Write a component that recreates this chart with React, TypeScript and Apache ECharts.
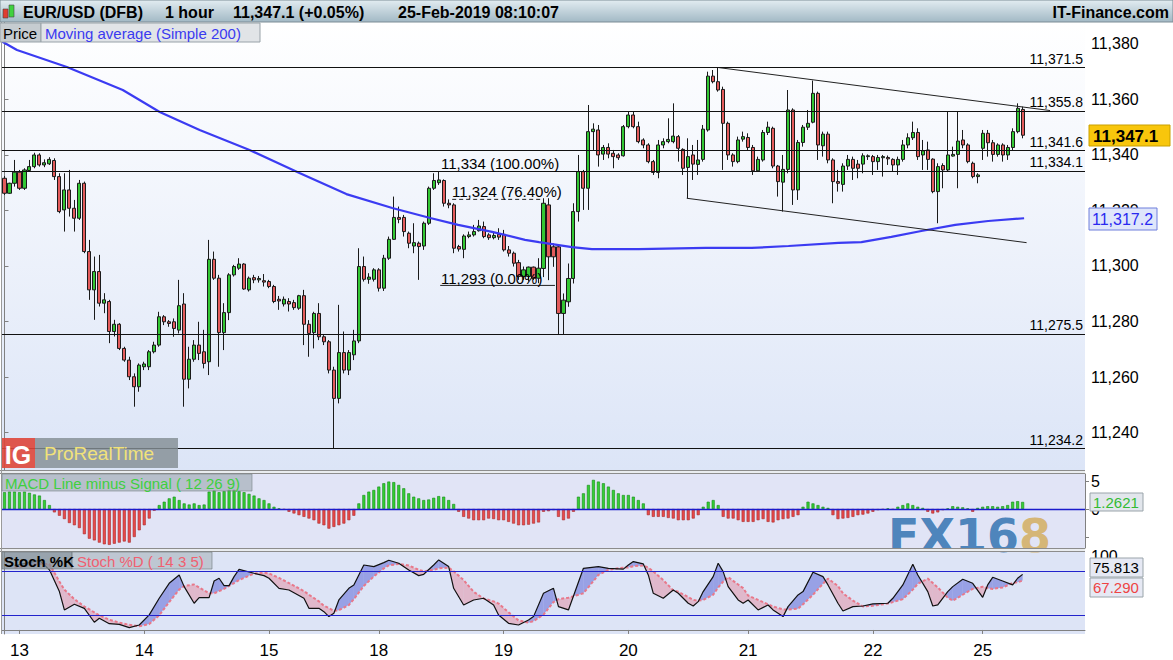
import React, { useEffect, useRef } from 'react';
import * as echarts from 'echarts';

const FONT = '"Liberation Sans", Arial, Helvetica, sans-serif';
const N_SLOTS = 217;

// header texts
const instrument = 'EUR/USD (DFB)';
const timeframe = '1 hour';
const lastQuote = '11,347.1 (+0.05%)';
const stamp = '25-Feb-2019 08:10:07';

// hourly candles: [open, close, low, high]
const ohlc: number[][] = [
  [11331.6, 11326.2, 11325.6, 11332.4], [11326.2, 11329.8, 11326.0, 11330.0], [11329.8, 11333.8, 11328.6, 11338.2],
  [11333.8, 11328.0, 11327.4, 11334.6], [11328.0, 11334.6, 11327.4, 11335.2], [11334.4, 11335.8, 11334.0, 11338.2],
  [11335.8, 11340.0, 11335.2, 11340.8], [11340.0, 11336.4, 11335.8, 11340.6], [11336.4, 11337.2, 11335.6, 11338.4],
  [11336.8, 11338.4, 11336.4, 11339.2], [11338.0, 11332.2, 11331.0, 11338.8], [11332.2, 11319.6, 11319.0, 11333.4],
  [11320.2, 11327.4, 11312.4, 11333.4], [11327.4, 11320.8, 11317.8, 11334.6], [11320.8, 11317.2, 11312.4, 11323.8],
  [11317.2, 11329.8, 11316.6, 11331.0], [11329.8, 11305.2, 11304.6, 11330.4], [11305.2, 11291.4, 11287.8, 11309.4],
  [11291.4, 11298.0, 11280.6, 11303.4], [11298.0, 11286.6, 11285.4, 11304.0], [11286.6, 11287.8, 11283.0, 11290.2],
  [11287.2, 11276.4, 11272.2, 11287.8], [11276.4, 11279.0, 11274.6, 11280.6], [11279.0, 11270.3, 11269.7, 11279.4],
  [11270.3, 11266.1, 11265.5, 11270.9], [11266.1, 11260.1, 11258.9, 11267.3], [11260.1, 11256.5, 11249.3, 11261.3],
  [11256.5, 11264.3, 11254.7, 11264.9], [11263.7, 11264.7, 11262.5, 11265.5], [11263.7, 11269.1, 11262.5, 11269.7],
  [11269.1, 11271.5, 11268.5, 11272.7], [11271.5, 11281.7, 11270.9, 11283.5], [11281.7, 11279.9, 11278.7, 11282.3],
  [11279.9, 11279.3, 11278.1, 11280.5], [11279.9, 11277.5, 11274.5, 11281.1], [11276.9, 11285.7, 11275.7, 11295.0],
  [11286.3, 11259.2, 11249.3, 11290.2], [11259.2, 11266.4, 11255.9, 11270.9], [11266.4, 11271.5, 11265.5, 11273.3],
  [11271.5, 11268.5, 11266.1, 11279.9], [11269.1, 11264.9, 11263.1, 11277.0], [11265.5, 11302.4, 11260.7, 11309.4],
  [11302.4, 11295.6, 11295.0, 11305.2], [11295.6, 11276.0, 11263.7, 11296.8], [11276.0, 11283.2, 11269.7, 11286.6],
  [11283.2, 11296.8, 11280.5, 11297.4], [11296.8, 11299.8, 11296.2, 11300.4], [11299.2, 11300.7, 11298.6, 11302.8],
  [11300.7, 11291.7, 11291.4, 11301.0], [11291.4, 11295.6, 11290.8, 11296.2], [11295.8, 11295.0, 11293.8, 11296.8],
  [11295.0, 11295.5, 11294.0, 11296.4], [11294.7, 11294.2, 11292.6, 11297.1], [11294.4, 11292.6, 11292.0, 11295.0],
  [11292.6, 11287.2, 11286.6, 11293.2], [11288.0, 11287.4, 11284.2, 11289.2], [11286.3, 11288.0, 11285.4, 11289.0],
  [11287.2, 11286.3, 11283.6, 11288.4], [11286.8, 11285.0, 11284.2, 11287.8], [11284.8, 11289.3, 11284.2, 11289.6],
  [11289.3, 11279.0, 11271.5, 11291.4], [11279.0, 11275.7, 11267.3, 11280.5], [11276.0, 11282.9, 11270.3, 11283.5],
  [11282.9, 11274.5, 11273.3, 11286.6], [11274.5, 11272.7, 11271.5, 11275.1], [11272.7, 11262.5, 11261.3, 11273.3],
  [11262.5, 11252.3, 11234.2, 11263.7], [11252.3, 11268.8, 11250.5, 11286.0], [11268.8, 11262.5, 11261.3, 11276.4],
  [11262.5, 11268.8, 11260.7, 11269.7], [11268.0, 11273.0, 11266.1, 11277.0], [11273.0, 11299.8, 11272.2, 11306.4],
  [11299.8, 11295.2, 11294.4, 11303.4], [11295.2, 11296.0, 11293.6, 11297.4], [11295.2, 11298.6, 11294.4, 11299.2],
  [11298.6, 11292.0, 11290.8, 11299.2], [11292.0, 11302.8, 11291.0, 11304.0], [11302.8, 11309.6, 11302.2, 11310.6],
  [11309.6, 11317.5, 11309.4, 11325.0], [11317.5, 11316.8, 11315.4, 11321.4], [11317.5, 11312.4, 11310.6, 11318.4],
  [11311.8, 11308.2, 11306.4, 11312.4], [11307.2, 11308.4, 11304.6, 11315.4], [11308.2, 11307.0, 11295.0, 11308.8],
  [11307.2, 11315.4, 11305.8, 11316.0], [11315.4, 11328.0, 11314.8, 11328.6], [11328.0, 11330.8, 11327.4, 11333.4],
  [11330.0, 11331.0, 11329.2, 11334.0], [11330.8, 11322.6, 11321.4, 11331.2], [11322.6, 11322.0, 11320.8, 11324.0],
  [11322.0, 11306.4, 11304.6, 11322.6], [11307.0, 11306.1, 11305.2, 11307.6], [11306.0, 11310.8, 11302.8, 11311.4],
  [11310.6, 11311.2, 11310.0, 11312.4], [11311.2, 11312.4, 11310.6, 11314.8], [11312.7, 11314.4, 11312.4, 11316.6],
  [11314.2, 11310.6, 11310.0, 11316.0], [11311.2, 11310.2, 11309.4, 11311.8], [11310.2, 11311.0, 11309.6, 11312.0],
  [11311.4, 11310.4, 11309.4, 11313.6], [11311.4, 11305.8, 11305.2, 11313.0], [11305.8, 11304.6, 11303.4, 11307.2],
  [11304.6, 11301.0, 11299.8, 11305.2], [11301.2, 11296.2, 11295.0, 11302.2], [11296.2, 11298.6, 11295.0, 11299.8],
  [11296.2, 11299.6, 11294.4, 11299.8], [11299.6, 11295.6, 11295.0, 11299.8], [11295.6, 11299.2, 11293.8, 11302.8],
  [11299.1, 11322.6, 11296.0, 11324.4], [11322.0, 11303.3, 11294.9, 11324.4], [11306.9, 11303.3, 11299.7, 11308.1],
  [11306.9, 11282.9, 11275.5, 11307.5], [11282.9, 11287.7, 11275.5, 11290.1], [11287.1, 11295.5, 11285.3, 11300.9],
  [11295.5, 11319.6, 11293.7, 11322.6], [11319.6, 11334.0, 11316.0, 11340.0], [11334.0, 11328.0, 11320.2, 11334.6],
  [11328.0, 11348.4, 11320.2, 11358.0], [11348.4, 11349.3, 11341.8, 11351.4], [11349.0, 11340.0, 11335.8, 11350.8],
  [11340.3, 11342.7, 11338.2, 11343.6], [11342.7, 11340.3, 11338.8, 11344.2], [11340.6, 11339.4, 11335.2, 11341.8],
  [11340.0, 11339.0, 11338.2, 11340.6], [11339.7, 11350.2, 11339.4, 11350.8], [11350.2, 11354.4, 11349.6, 11355.6],
  [11354.4, 11350.2, 11349.6, 11355.6], [11350.2, 11344.8, 11344.2, 11352.0], [11345.4, 11343.6, 11342.4, 11346.0],
  [11343.6, 11337.6, 11337.0, 11344.2], [11337.6, 11333.7, 11332.8, 11338.2], [11333.7, 11343.6, 11331.6, 11345.4],
  [11343.6, 11344.8, 11342.4, 11346.0], [11344.8, 11345.6, 11344.2, 11353.2], [11344.8, 11346.8, 11344.2, 11358.6],
  [11346.6, 11342.4, 11337.6, 11347.2], [11342.0, 11335.2, 11332.8, 11342.4], [11335.5, 11339.4, 11324.4, 11346.0],
  [11340.0, 11336.7, 11331.0, 11343.6], [11336.6, 11338.2, 11332.8, 11345.4], [11338.4, 11349.3, 11337.6, 11350.8],
  [11349.0, 11368.4, 11348.4, 11370.0], [11368.4, 11366.4, 11365.8, 11370.6], [11366.4, 11363.4, 11362.8, 11371.5],
  [11363.6, 11351.4, 11334.6, 11364.6], [11351.4, 11340.0, 11338.2, 11352.0], [11340.0, 11337.6, 11335.8, 11340.6],
  [11337.6, 11345.4, 11337.0, 11346.6], [11345.7, 11346.6, 11344.8, 11348.4], [11346.3, 11342.7, 11341.8, 11347.8],
  [11342.7, 11334.3, 11332.8, 11343.6], [11334.3, 11338.4, 11334.0, 11339.4], [11338.2, 11348.1, 11337.6, 11349.0],
  [11348.1, 11350.0, 11347.2, 11352.0], [11349.6, 11336.0, 11335.2, 11350.2], [11336.0, 11330.4, 11325.0, 11336.4],
  [11330.2, 11334.8, 11319.6, 11340.0], [11334.8, 11356.2, 11333.4, 11363.4], [11356.2, 11327.4, 11322.0, 11356.8],
  [11327.4, 11344.5, 11323.8, 11345.4], [11344.5, 11350.0, 11343.0, 11350.8], [11350.0, 11351.4, 11349.0, 11356.2],
  [11351.8, 11362.2, 11351.4, 11366.8], [11362.2, 11343.6, 11338.2, 11362.8], [11343.3, 11347.5, 11339.4, 11348.4],
  [11347.5, 11338.2, 11337.0, 11348.4], [11338.2, 11330.4, 11322.6, 11338.8], [11330.4, 11329.8, 11326.8, 11334.6],
  [11329.4, 11336.0, 11326.8, 11337.0], [11336.0, 11338.4, 11334.6, 11340.0], [11338.4, 11335.2, 11331.0, 11339.4],
  [11336.7, 11335.2, 11331.6, 11338.2], [11336.7, 11339.7, 11333.4, 11340.6], [11339.4, 11339.7, 11338.2, 11340.2],
  [11339.4, 11337.6, 11332.8, 11340.0], [11337.6, 11339.1, 11334.6, 11340.0], [11339.0, 11339.4, 11332.2, 11340.0],
  [11339.1, 11338.6, 11336.4, 11339.8], [11338.4, 11336.4, 11334.0, 11338.8], [11336.4, 11338.4, 11332.8, 11339.4],
  [11338.4, 11343.6, 11337.6, 11345.4], [11343.6, 11346.2, 11342.4, 11347.8], [11346.2, 11348.1, 11345.4, 11352.0],
  [11348.1, 11339.4, 11338.2, 11349.6], [11340.0, 11341.5, 11334.6, 11345.4], [11341.8, 11338.4, 11334.6, 11344.8],
  [11338.5, 11326.8, 11326.2, 11338.8], [11326.8, 11335.8, 11315.4, 11337.0], [11336.2, 11334.6, 11328.0, 11337.0],
  [11334.6, 11340.0, 11334.0, 11355.6], [11339.6, 11340.2, 11339.4, 11343.0], [11340.2, 11345.0, 11328.0, 11355.6],
  [11345.4, 11343.6, 11342.4, 11349.0], [11343.6, 11337.6, 11337.0, 11344.2], [11337.0, 11332.2, 11331.6, 11337.6],
  [11332.2, 11332.8, 11329.8, 11333.4], [11342.4, 11347.8, 11338.2, 11349.0], [11347.8, 11344.4, 11339.4, 11349.0],
  [11344.4, 11340.2, 11337.6, 11345.4], [11340.2, 11343.6, 11339.4, 11344.2], [11343.6, 11340.0, 11337.6, 11344.2],
  [11340.0, 11342.7, 11338.2, 11343.6], [11342.7, 11348.4, 11341.8, 11349.6], [11348.4, 11356.8, 11347.8, 11358.6],
  [11356.4, 11347.1, 11346.0, 11357.4],
];

// simple moving average 200, read at sample bars: [bar, value]
const maPoints: number[][] = [
  [-0.5, 11380.9], [2.5, 11377.8], [12.5, 11371.7], [23.7, 11363.4], [31.1, 11355.5], [39.1, 11349.0],
  [49.1, 11341.8], [59.1, 11333.5], [68.5, 11325.9], [77.7, 11320.9], [85.3, 11317.3], [90.9, 11314.8],
  [97.7, 11312.3], [104.3, 11309.4], [107.1, 11308.6], [113.7, 11306.8], [117.7, 11306.1], [127.1, 11306.1],
  [140.5, 11306.5], [149.7, 11306.5], [157.1, 11307.2], [167.1, 11308.3], [171.7, 11308.6], [177.7, 11310.5],
  [183.7, 11312.6], [190.5, 11314.8], [197.1, 11316.2], [204.3, 11317.2],
];

// horizontal levels
const levels = [11371.5, 11355.8, 11341.6, 11334.1, 11275.5, 11234.2];

// channel trend lines [bar, value]
const upperTrend = [[143, 11371.5], [209.5, 11356.0]];
const lowerTrend = [[136.7, 11324.4], [204.8, 11308.4]];

// fibonacci retracement
const fibLabels = ['11,334 (100.00%)', '11,324 (76.40%)', '11,293 (0.00%)'];
const fib764 = [[89.7, 11324], [107.7, 11324]];
const fib0 = [[87.3, 11293], [110.3, 11293]];

// MACD line minus signal (12 26 9)
const macd = [
  3.0, 3.1, 3.1, 3.0, 3.1, 2.9, 2.6, 2.4, 1.6, 0.7,
  -0.6, -1.2, -1.8, -2.5, -2.9, -3.4, -4.5, -5.3, -5.6, -6.0,
  -6.3, -6.4, -6.2, -6.0, -5.8, -6.0, -5.0, -3.8, -2.9, -1.7,
  -0.3, 0.7, 1.3, 1.9, 2.2, 1.6, 1.0, 0.8, 1.0, 0.7,
  0.8, 3.1, 3.3, 3.0, 3.2, 3.4, 3.4, 3.2, 3.0, 2.7,
  2.4, 1.9, 1.6, 1.0, 0.4, 0.1, -0.1, -0.5, -0.8, -1.1,
  -1.4, -1.7, -2.0, -2.6, -2.9, -3.5, -3.2, -2.9, -2.6, -2.0,
  -1.2, 1.0, 2.5, 3.1, 3.4, 4.0, 4.6, 4.9, 4.8, 4.3,
  3.7, 2.8, 2.2, 1.9, 1.6, 1.7, 2.0, 2.3, 2.2, 1.6,
  0.9, -0.5, -1.4, -1.7, -2.0, -2.0, -2.0, -1.7, -1.8, -2.0,
  -2.0, -2.3, -2.6, -2.9, -2.9, -2.8, -2.6, -2.4, -0.5, -0.4,
  -0.2, -1.4, -2.0, -1.7, -0.5, 2.2, 2.8, 4.3, 5.2, 4.9,
  4.6, 4.0, 3.4, 2.8, 2.5, 2.5, 2.2, 1.6, 1.0, -1.1,
  -1.4, -1.4, -1.4, -1.6, -1.7, -2.0, -2.0, -2.0, -1.7, -1.1,
  0.4, 1.3, 1.6, 0.7, -1.4, -1.7, -1.7, -2.0, -2.3, -2.3,
  -2.3, -2.0, -1.8, -2.3, -2.4, -2.0, -1.8, -1.7, -1.4, -1.1,
  0.4, 1.3, 1.0, 0.7, 0.4, 0.2, -1.1, -1.8, -1.7, -1.6,
  -1.4, -1.1, -1.0, -0.8, -0.5, -0.2, -0.1, 0.1, -0.1, 0.4,
  0.7, 1.0, 0.7, 0.4, 0.2, -0.5, -0.8, -0.6, -0.2, 0.1,
  0.5, 0.4, 0.3, 0.1, -0.5, 0.2, 0.4, 0.5, 0.5, 0.4,
  0.5, 0.7, 1.3, 1.4, 1.2621,
];

// stochastic (14 3 5), read at sample bars
const stochBars = [2, 5, 7, 9, 11, 12, 14, 16, 18, 19, 21, 23, 25, 27, 29, 31, 33, 35, 36, 38, 39, 41, 42, 43, 44, 45, 46, 47, 50, 52, 53, 55, 57, 60, 61, 63, 64, 65, 66, 67, 69, 70, 72, 74, 76, 77, 79, 81, 83, 84, 86, 87, 89, 90, 92, 94, 96, 98, 99, 101, 103, 105, 106, 108, 110, 111, 113, 116, 119, 121, 124, 125, 126, 128, 129, 130, 132, 134, 135, 137, 138, 139, 140, 142, 143, 144, 145, 147, 148, 149, 151, 153, 154, 156, 157, 159, 160, 162, 164, 165, 167, 168, 170, 172, 174, 177, 178, 180, 182, 183, 185, 186, 187, 189, 190, 192, 194, 196, 197, 198, 200, 202, 203, 204];
const stochK = [88, 92, 95, 82, 52.3, 27.3, 35.0, 29.5, 10.5, 16, 8.6, 7.7, 3.2, 6.8, 20.5, 43.2, 63.6, 75, 59.1, 36.4, 44.1, 44.1, 66.8, 70.5, 60.5, 60.5, 72.7, 82.7, 77.3, 74.1, 70.5, 56.8, 54.5, 43.2, 29.5, 29.5, 25, 18.2, 22.7, 40.9, 56.8, 61.4, 88.6, 86.4, 91.8, 95, 90.9, 81.8, 74.1, 75.9, 88.6, 95.5, 86.4, 56.8, 34.1, 40.9, 43.2, 34.1, 20.5, 9.1, 6.8, 13.6, 18.2, 50, 56.8, 31.8, 27.3, 84.1, 86.4, 84, 83, 88.6, 93.2, 90, 75, 50, 43.2, 54.5, 50, 36.4, 32.7, 38.6, 52.3, 72.7, 90.9, 79.5, 59.1, 40.9, 36.4, 40.9, 27.3, 34.1, 27.3, 18.2, 31.8, 47.7, 52.3, 78.6, 72.7, 61.4, 36.4, 25.9, 31.8, 32.7, 35.5, 36.4, 43.2, 61.4, 89.5, 75, 52.3, 32.7, 34.1, 52.3, 59.1, 69.1, 63.6, 44.5, 61.4, 71.8, 66.8, 61.4, 70.5, 75.813];
const stochD = [85, 88, 90, 90, 66, 55, 42, 32, 24, 20, 14, 10, 7, 5, 8, 20, 38, 55, 60, 62, 58, 50, 50, 53, 56, 60, 64, 68, 77, 78, 77, 71, 64, 53, 48, 39, 33, 30, 26, 27, 34, 42, 60, 73, 84, 88, 90, 88, 82, 80, 82, 84, 85, 80, 68, 52, 43, 39, 36, 24, 13, 10, 12, 21, 38, 42, 44, 50, 75, 82, 85, 85, 87, 88, 85, 80, 68, 54, 52, 45, 41, 40, 41, 48, 58, 66, 72, 62, 57, 47, 41, 35, 32, 28, 28, 29, 35, 48, 63, 70, 60, 50, 40, 32, 33, 36, 38, 42, 55, 63, 70, 64, 58, 44, 40, 48, 56, 59, 57, 56, 58, 64, 65, 67.29];

// date labels on the time axis
const dayLabels = ['13', '14', '15', '18', '19', '20', '21', '22', '25'];
const dayLabelBars = [3, 28, 53, 75, 100, 125, 149, 174, 196];

const fmt = (v: number, d = 0) => v.toLocaleString('en-US', { minimumFractionDigits: d, maximumFractionDigits: d });
const lg = (a: string, b: string) => new echarts.graphic.LinearGradient(0, 0, 0, 1, [{ offset: 0, color: a }, { offset: 1, color: b }]);

function txt(x: number, y: number, text: string, font: string, fill: string, align = 'left', z = 60) {
  return { type: 'text', x, y, z, silent: true, style: { text, font, fill, align, verticalAlign: 'middle', textAlign: align, textVerticalAlign: 'middle' } };
}
function box(x: number, y: number, w: number, h: number, fill: any, stroke: string | null, z = 59, lineWidth = 1) {
  return { type: 'rect', z, silent: true, shape: { x, y, width: w, height: h }, style: { fill, stroke: stroke || undefined, lineWidth: stroke ? lineWidth : 0 } };
}
function hline(x1: number, x2: number, y: number, color: string, z = 58) {
  return { type: 'line', z, silent: true, shape: { x1, y1: y, x2, y2: y }, style: { stroke: color, lineWidth: 1 } };
}

function buildOption() {
  const slotNames = Array.from({ length: N_SLOTS }, (_, i) => 's' + i);
  const labelAt: Record<number, string> = {};
  dayLabelBars.forEach((b, j) => { labelAt[b] = dayLabels[j]; });

  const GL = 2, GR = 88;
  const grids = [
    { left: GL, right: GR, top: 22, height: 448, show: true, borderWidth: 0, backgroundColor: lg('#ffffff', '#dce5f7') },
    { left: GL, right: GR, top: 474, height: 74, show: true, borderWidth: 0, backgroundColor: '#e1e4f6' },
    { left: GL, right: GR, top: 552, height: 82, show: true, borderWidth: 0, backgroundColor: '#dde4f6' },
  ];

  const axisLabelBase = { color: '#000', fontFamily: FONT, fontSize: 16, margin: 6 };
  const yLine = { show: true, lineStyle: { color: '#808080' } };
  const yTick = { show: true, length: 4, lineStyle: { color: '#808080' } };

  const xAxis = [
    { type: 'category', gridIndex: 0, data: slotNames, show: false, boundaryGap: true },
    { type: 'value', gridIndex: 0, min: -0.5, max: N_SLOTS - 0.5, show: false, position: 'top' },
    { type: 'category', gridIndex: 1, data: slotNames, show: false, boundaryGap: true },
    {
      type: 'category', gridIndex: 2, data: slotNames, boundaryGap: true, position: 'bottom',
      axisLine: { show: true, lineStyle: { color: '#808080' } },
      axisTick: { show: true, length: 4, alignWithLabel: true, interval: (i: number) => labelAt[i] !== undefined, lineStyle: { color: '#808080' } },
      axisLabel: { interval: 0, color: '#000', fontFamily: FONT, fontSize: 17, margin: 8, formatter: (_v: string, i: number) => labelAt[i] ?? '' },
      splitLine: { show: false },
    },
    { type: 'value', gridIndex: 2, min: -0.5, max: N_SLOTS - 0.5, show: false, position: 'top' },
  ];

  const yAxis = [
    {
      type: 'value', gridIndex: 0, position: 'right', min: 11226.5, max: 11387.9, splitNumber: 8, minInterval: 20, maxInterval: 20,
      axisLine: yLine, axisTick: yTick, splitLine: { show: false },
      axisLabel: { ...axisLabelBase, showMinLabel: false, showMaxLabel: false, formatter: (v: number) => (Math.abs(v / 20 - Math.round(v / 20)) < 1e-6 ? fmt(v) : '') },
    },
    {
      type: 'value', gridIndex: 1, position: 'right', min: -6.96, max: 6.25, splitNumber: 3, minInterval: 5, maxInterval: 5,
      axisLine: yLine, axisTick: yTick, splitLine: { show: false },
      axisLabel: { ...axisLabelBase, showMinLabel: false, showMaxLabel: false, formatter: (v: number) => (Math.abs(v - 5) < 1e-6 ? '5' : Math.abs(v) < 1e-6 ? '0' : '') },
    },
    {
      type: 'value', gridIndex: 2, position: 'right', min: -5.5, max: 106.3, splitNumber: 6, minInterval: 20, maxInterval: 20,
      axisLine: yLine, axisTick: { show: false }, splitLine: { show: false },
      axisLabel: { ...axisLabelBase, showMinLabel: false, showMaxLabel: false, formatter: (v: number) => (Math.abs(v - 100) < 1e-6 ? '100' : '') },
    },
  ];

  const blueFill = 'rgba(95,105,215,0.55)';
  const pinkFill = 'rgba(228,140,160,0.5)';
  const fillSegments: number[][] = [];
  for (let j = 0; j < stochBars.length - 1; j++) {
    fillSegments.push([stochBars[j], stochK[j], stochD[j], stochBars[j + 1], stochK[j + 1], stochD[j + 1]]);
  }

  const series: any[] = [
    {
      type: 'candlestick', name: 'Price', xAxisIndex: 0, yAxisIndex: 0, data: ohlc, barWidth: 3.6, z: 3,
      itemStyle: { color: '#33c733', color0: '#e35b5b', borderColor: '#1a1a1a', borderColor0: '#1a1a1a', borderWidth: 1 },
      markLine: {
        silent: true, symbol: ['none', 'none'], animation: false,
        lineStyle: { color: '#111', width: 1, type: 'solid' },
        label: { show: true, position: 'insideEndTop', distance: 2, color: '#000', fontFamily: FONT, fontSize: 14, formatter: (p: any) => fmt(p.value, 1) },
        data: levels.map((v) => ({ yAxis: v })),
      },
    },
    { type: 'line', name: 'MA200', xAxisIndex: 1, yAxisIndex: 0, data: maPoints, symbol: 'none', z: 4, lineStyle: { color: '#3b3bf2', width: 2.2 } },
    { type: 'line', xAxisIndex: 1, yAxisIndex: 0, data: upperTrend, symbol: 'none', z: 4, lineStyle: { color: '#222', width: 1 } },
    { type: 'line', xAxisIndex: 1, yAxisIndex: 0, data: lowerTrend, symbol: 'none', z: 4, lineStyle: { color: '#222', width: 1 } },
    { type: 'line', xAxisIndex: 1, yAxisIndex: 0, data: fib764, symbol: 'none', z: 4, lineStyle: { color: '#222', width: 1, type: [4, 3] } },
    { type: 'line', xAxisIndex: 1, yAxisIndex: 0, data: fib0, symbol: 'none', z: 4, lineStyle: { color: '#222', width: 1 } },
    {
      type: 'bar', name: 'MACD', xAxisIndex: 2, yAxisIndex: 1, barWidth: 3,
      data: macd.map((v) => ({ value: v, itemStyle: { color: v >= 0 ? '#35cf35' : '#e84a4a', borderColor: v >= 0 ? '#138a13' : '#a82828', borderWidth: 0.6 } })),
      markLine: { silent: true, symbol: ['none', 'none'], animation: false, label: { show: false }, lineStyle: { color: '#1a1acc', width: 1.4, type: 'solid' }, data: [{ yAxis: 0 }] },
    },
    {
      type: 'custom', xAxisIndex: 4, yAxisIndex: 2, data: fillSegments, z: 2, silent: true,
      encode: { x: [0, 3], y: [1, 2, 4, 5] },
      renderItem: (_p: any, api: any) => {
        const x0 = api.value(0), k0 = api.value(1), d0 = api.value(2);
        const x1 = api.value(3), k1 = api.value(4), d1 = api.value(5);
        const P = (x: number, y: number) => api.coord([x, y]);
        const s0 = k0 - d0, s1 = k1 - d1;
        const children: any[] = [];
        if (s0 * s1 >= 0) {
          children.push({ type: 'polygon', shape: { points: [P(x0, k0), P(x1, k1), P(x1, d1), P(x0, d0)] }, style: { fill: s0 + s1 >= 0 ? blueFill : pinkFill } });
        } else {
          const t = s0 / (s0 - s1);
          const xc = x0 + (x1 - x0) * t, yc = k0 + (k1 - k0) * t;
          children.push({ type: 'polygon', shape: { points: [P(x0, k0), P(xc, yc), P(x0, d0)] }, style: { fill: s0 > 0 ? blueFill : pinkFill } });
          children.push({ type: 'polygon', shape: { points: [P(xc, yc), P(x1, k1), P(x1, d1)] }, style: { fill: s1 > 0 ? blueFill : pinkFill } });
        }
        return { type: 'group', children };
      },
    },
    {
      type: 'line', name: 'Stoch %D', xAxisIndex: 4, yAxisIndex: 2, data: stochBars.map((b, j) => [b, stochD[j]]), symbol: 'none', z: 3,
      lineStyle: { color: '#e8788a', width: 2, type: [3, 2] },
    },
    {
      type: 'line', name: 'Stoch %K', xAxisIndex: 4, yAxisIndex: 2, data: stochBars.map((b, j) => [b, stochK[j]]), symbol: 'none', z: 4,
      lineStyle: { color: '#111', width: 1.2 },
      markLine: { silent: true, symbol: ['none', 'none'], animation: false, label: { show: false }, lineStyle: { color: '#2222cc', width: 1.2, type: 'solid' }, data: [{ yAxis: 80 }, { yAxis: 20 }] },
    },
  ];

  const F = (size: number, bold = false) => `${bold ? 'bold ' : ''}${size}px ${FONT}`;
  const graphic: any[] = [
    // header
    box(0, 0, 1173, 22, lg('#e2ecf1', '#a2b9c5'), '#7d8d96', 50),
    box(3, 9, 5, 9, '#e03c31', '#444', 51, 0.6),
    box(9, 5, 5, 12, '#3fd23f', '#444', 51, 0.6),
    txt(23, 12, instrument, F(16, true), '#000', 'left', 52),
    txt(165, 12, timeframe, F(16, true), '#000', 'left', 52),
    txt(233, 12, lastQuote, F(16, true), '#000', 'left', 52),
    txt(398, 12, stamp, F(16, true), '#000', 'left', 52),
    txt(1169, 12, 'IT-Finance.com', F(16, true), '#000', 'right', 52),
    // legend of price panel
    box(0, 23, 41, 19, '#c6ccd0', '#98a2a8', 59),
    txt(3, 33, 'Price', F(15), '#000'),
    box(41, 23, 219, 19, '#e1e4e7', '#98a2a8', 59),
    txt(45, 33, 'Moving average (Simple 200)', F(15), '#3a3af0'),
    // fibonacci labels
    txt(441, 163, fibLabels[0], F(15), '#000', 'left', 20),
    txt(452, 191, fibLabels[1], F(15), '#000', 'left', 20),
    txt(441, 278, fibLabels[2], F(15), '#000', 'left', 20),
    // panel separators
    { type: 'rect', z: 40, silent: true, shape: { x: 0, y: 470, width: 1085, height: 4 }, style: { fill: '#e9ecef' } },
    hline(0, 1085, 470.5, '#8c8c8c', 41),
    hline(0, 1085, 473.5, '#8c8c8c', 41),
    { type: 'rect', z: 40, silent: true, shape: { x: 0, y: 548, width: 1085, height: 4 }, style: { fill: '#e9ecef' } },
    hline(0, 1085, 548.5, '#8c8c8c', 41),
    hline(0, 1085, 551.5, '#8c8c8c', 41),
    { type: 'line', z: 41, silent: true, shape: { x1: 1.5, y1: 22, x2: 1.5, y2: 634 }, style: { stroke: '#9a9a9a', lineWidth: 1 } },
    // ProRealTime logo
    box(2, 438, 33, 30, 'rgba(222,70,58,0.9)', null, 45),
    txt(18, 455, 'IG', F(25, true), '#ffffff', 'center', 46),
    box(35, 438, 143, 30, 'rgba(132,142,148,0.82)', null, 45),
    txt(44, 453, 'ProRealTime', F(19), '#f1e27a', 'left', 46),
    // FX168 watermark
    { type: 'text', x: 888, y: 536, z: 1, silent: true, style: { text: 'FX16', font: 'bold 46px "DejaVu Sans", sans-serif', fill: 'rgba(58,120,180,0.9)', align: 'left', verticalAlign: 'middle', textAlign: 'left', textVerticalAlign: 'middle' } },
    { type: 'text', x: 1019, y: 536, z: 1, silent: true, style: { text: '8', font: 'bold 46px "DejaVu Sans", sans-serif', fill: 'rgba(212,178,106,0.92)', align: 'left', verticalAlign: 'middle', textAlign: 'left', textVerticalAlign: 'middle' } },
    // MACD legend
    box(2, 474, 250, 17, 'rgba(150,160,168,0.55)', 'rgba(120,130,135,0.6)', 59),
    txt(5, 483, 'MACD Line minus Signal ( 12 26 9)', F(15), '#3ecf3e'),
    // Stoch legend
    box(2, 552, 70, 17, 'rgba(128,142,148,0.75)', 'rgba(110,120,125,0.6)', 59),
    txt(4, 561, 'Stoch %K', F(15, true), '#000'),
    box(72, 552, 140, 17, 'rgba(170,180,186,0.6)', 'rgba(110,120,125,0.6)', 59),
    txt(77, 561, 'Stoch %D ( 14 3 5)', F(15), '#f06070'),
    // right side value boxes
    box(1089, 125, 81, 21, '#f8c60c', '#c9a000', 60),
    txt(1093, 136, '11,347.1', F(17, true), '#000', 'left', 61),
    box(1089, 208, 68, 22, '#dfe6fb', '#6f7fdc', 60),
    txt(1092, 219, '11,317.2', F(16), '#2a2af0', 'left', 61),
    box(1090, 493, 53, 18, '#e2e6ec', '#9aa4aa', 60),
    txt(1093, 502, '1.2621', F(15), '#33bb33', 'left', 61),
    box(1090, 558, 53, 19, '#e6e9f4', '#9aa4aa', 60),
    txt(1093, 567.5, '75.813', F(15), '#000', 'left', 61),
    box(1090, 578, 53, 19, '#e6e9f4', '#9aa4aa', 60),
    txt(1093, 587.5, '67.290', F(15), '#ee4444', 'left', 61),
  ];

  return {
    animation: false,
    backgroundColor: '#ffffff',
    textStyle: { fontFamily: FONT },
    grid: grids,
    xAxis,
    yAxis,
    series,
    graphic: { elements: graphic },
  };
}

export default function App() {
  const ref = useRef<HTMLDivElement>(null);
  useEffect(() => {
    if (!ref.current) return;
    const chart = echarts.init(ref.current, null, { renderer: 'svg' });
    chart.setOption(buildOption() as any);
    return () => chart.dispose();
  }, []);
  return <div ref={ref} style={{ position: 'fixed', left: 0, top: 0, width: 1173, height: 660, background: '#fff' }} />;
}
